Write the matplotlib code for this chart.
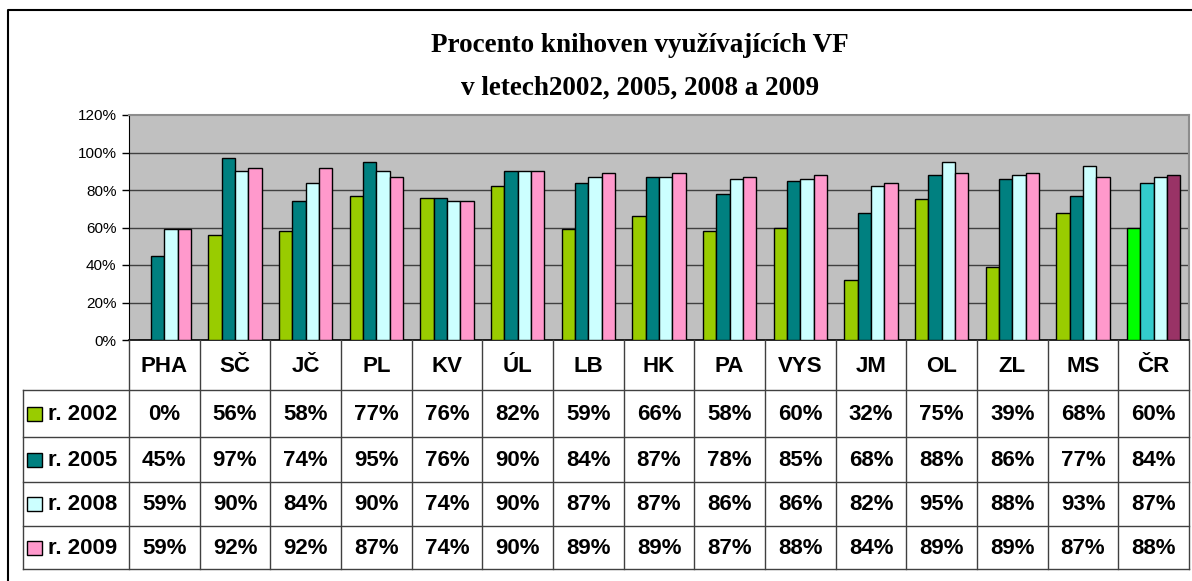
import matplotlib.pyplot as plt
from matplotlib.lines import Line2D
from matplotlib.patches import Rectangle

# Data
regions = ["PHA", "SČ", "JČ", "PL", "KV", "ÚL", "LB", "HK", "PA", "VYS",
           "JM", "OL", "ZL", "MS", "ČR"]
series_names = ["r. 2002", "r. 2005", "r. 2008", "r. 2009"]
y2002 = [0, 56, 58, 77, 76, 82, 59, 66, 58, 60, 32, 75, 39, 68, 60]
y2005 = [45, 97, 74, 95, 76, 90, 84, 87, 78, 85, 68, 88, 86, 77, 84]
y2008 = [59, 90, 84, 90, 74, 90, 87, 87, 86, 86, 82, 95, 88, 93, 87]
y2009 = [59, 92, 92, 87, 74, 90, 89, 89, 87, 88, 84, 89, 89, 87, 88]
series = [y2002, y2005, y2008, y2009]

colors = ["#99CC00", "#008080", "#CCFFFF", "#FF99CC"]
colors_cr = ["#00FF00", "#33CCCC", "#CCFFFF", "#993366"]

W, H = 1192, 581
fig = plt.figure(figsize=(W / 100, H / 100), dpi=100)

# pixel layout of the plot area
px_left, px_right, px_top, px_bottom = 129, 1189, 115, 340
ax = fig.add_axes([px_left / W, 1 - px_bottom / H,
                   (px_right - px_left) / W, (px_bottom - px_top) / H])
ax.set_facecolor("#C0C0C0")

n = len(regions)
bw = 0.188
for k, vals in enumerate(series):
    xs = [i + (k - 1.5) * bw for i in range(n)]
    cols = [colors[k]] * (n - 1) + [colors_cr[k]]
    ax.bar(xs, vals, width=bw, color=cols, edgecolor="black",
           linewidth=1, zorder=3)

ax.set_xlim(-0.5, n - 0.5)
ax.set_ylim(0, 120)
ax.set_yticks(range(0, 121, 20))
ax.set_yticklabels([f"{t}%" for t in range(0, 121, 20)],
                   fontsize=11, family="Liberation Sans")
ax.set_xticks([])
ax.tick_params(axis="y", direction="out", length=5, width=1, pad=4)
for t in range(20, 101, 20):
    ax.axhline(t, color="#404040", linewidth=1, zorder=1)
for s in ["top", "right"]:
    ax.spines[s].set_color("#8C8C8C")
    ax.spines[s].set_linewidth(1.5)
ax.spines["left"].set_color("black")
ax.spines["bottom"].set_color("black")
ax.spines["bottom"].set_linewidth(1.2)

# overlay in pixel coordinates for title, table, frame
ov2 = fig.add_axes([0, 0, 1, 1], zorder=5)
ov2.set_xlim(0, W)
ov2.set_ylim(H, 0)
ov2.axis("off")
ov2.patch.set_alpha(0)

# outer frame
ov2.add_line(Line2D([8, 8, W], [H, 10, 10], color="black", linewidth=1.5))

# title
ov2.text(640, 46, "Procento knihoven využívajících VF", ha="center",
         va="center", fontsize=19.5, fontweight="bold", family="Liberation Serif")
ov2.text(640, 88, "v letech2002, 2005, 2008 a 2009", ha="center",
         va="center", fontsize=19.5, fontweight="bold", family="Liberation Serif")

# data table
colw = (px_right - px_left) / n
tab_left = 23
row_edges = [390, 437, 482, 526, 569]
lc = "#404040"
for y in row_edges:
    ov2.add_line(Line2D([tab_left, px_right], [y, y], color=lc, linewidth=1))
ov2.add_line(Line2D([tab_left, tab_left], [row_edges[0], row_edges[-1]],
                    color=lc, linewidth=1))
for i in range(n + 1):
    x = px_left + i * colw
    ov2.add_line(Line2D([x, x], [px_bottom, row_edges[-1]], color=lc,
                        linewidth=1))

tfont = dict(fontsize=16, fontweight="bold", family="Liberation Sans",
             ha="center", va="center")
for i, name in enumerate(regions):
    ov2.text(px_left + (i + 0.5) * colw, 366, name, **tfont)

for r, (name, vals) in enumerate(zip(series_names, series)):
    yc = (row_edges[r] + row_edges[r + 1]) / 2
    ov2.add_patch(Rectangle((27, yc - 7), 15, 14, facecolor=colors[r],
                            edgecolor="black", linewidth=1))
    ov2.text(48, yc + 1, name, fontsize=16, fontweight="bold",
             family="Liberation Sans", ha="left", va="center")
    for i, v in enumerate(vals):
        ov2.text(px_left + (i + 0.5) * colw, yc + 1, f"{v}%", **tfont)

fig.savefig("out.png", dpi=100)
